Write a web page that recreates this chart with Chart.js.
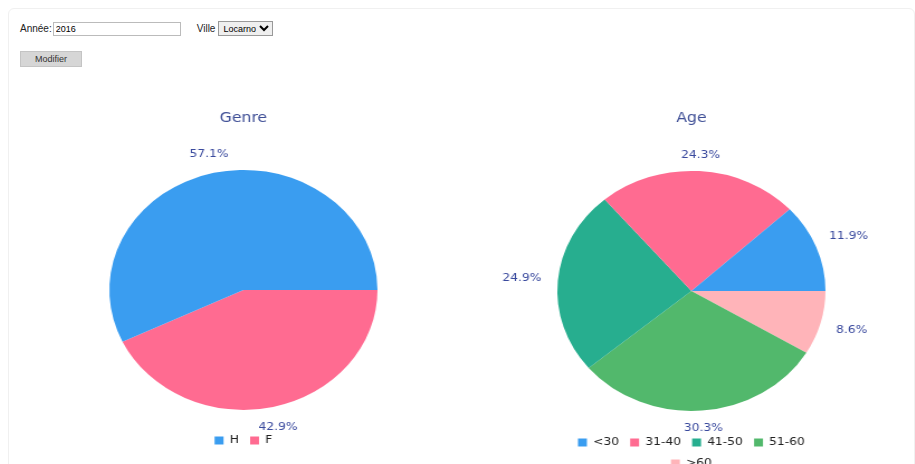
<!DOCTYPE html>
<html>
<head>
<meta charset="utf-8">
<script src="https://cdn.jsdelivr.net/npm/chart.js@4"></script>
<style>
    body { margin: 0; width: 915px; height: 464px; overflow: hidden; background: #fff; font-family: "Liberation Sans", Arial, sans-serif; font-size: 10px; color: #222; }
    .panel { position: absolute; left: 8px; top: 8px; width: 905px; height: 470px; border: 1px solid #f0f0f0; border-radius: 6px; }
    .form { position: absolute; left: 20px; top: 21px; }
    .form input { width: 122px; height: 12px; font-size: 9px; padding: 0 2px; border: 1px solid #bbb; margin: 0 0 0 1px; font-family: inherit; }
    .form select { height: 15px; font-size: 9px; border: 1px solid #999; margin-left: 3px; font-family: inherit; }
    .form .ville { margin-left: 16px; }
    .btn { position: absolute; left: 20px; top: 51px; width: 60px; height: 14px; background: #d6d6d6; border: 1px solid #c4c4c4; font-size: 9px; text-align: center; line-height: 14px; color: #333; }
    .chartbox { position: absolute; top: 100px; transform: scaleX(1.117); transform-origin: 0 0; }
</style>
</head>
<body>
<div class="panel"></div>
<div class="form">
    Année:<input type="text" value="2016"><span class="ville">Ville</span><select><option>Locarno</option></select>
</div>
<div class="btn">Modifier</div>
<div class="chartbox" style="left:20px"><canvas id="genre" width="400" height="356"></canvas></div>
<div class="chartbox" style="left:468px"><canvas id="age" width="400" height="379"></canvas></div>
<script>
const genreLabels = ['H', 'F'];
const genreValues = [57.1, 42.9];
const genreColors = ['#3a9df0', '#ff6b91'];

const ageLabels = ['<30', '31-40', '41-50', '51-60', '>60'];
const ageValues = [11.9, 24.3, 24.9, 30.3, 8.6];
const ageColors = ['#3a9df0', '#ff6b91', '#27ae8f', '#52b86c', '#ffb4b9'];

// percent labels outside each slice
const outLabels = {
    id: 'outLabels',
    afterDatasetsDraw(chart) {
        const ctx = chart.ctx;
        const data = chart.data.datasets[0].data;
        const total = data.reduce((a, b) => a + b, 0);
        ctx.save();
        ctx.font = '11px "DejaVu Sans", sans-serif';
        ctx.fillStyle = '#3a4a9e';
        ctx.textAlign = 'center';
        ctx.textBaseline = 'middle';
        chart.getDatasetMeta(0).data.forEach((arc, i) => {
            const { x, y, startAngle, endAngle, outerRadius } = arc.getProps(['x', 'y', 'startAngle', 'endAngle', 'outerRadius'], true);
            const mid = (startAngle + endAngle) / 2;
            const text = (data[i] / total * 100).toFixed(1) + '%';
            const half = ctx.measureText(text).width / 2;
            const r = outerRadius + 15 + half * Math.abs(Math.cos(mid)) + 1.5 * Math.max(0, Math.sin(mid));
            ctx.fillText(text, x + Math.cos(mid) * r, y + Math.sin(mid) * r);
        });
        ctx.restore();
    }
};

function renderPie(canvasId, title, labels, values, colors, sidePad) {
    // drawn anticlockwise from 3 o'clock in the original, so feed reversed and start at 90deg
    new Chart(document.getElementById(canvasId), {
        type: 'pie',
        data: {
            labels: [...labels].reverse(),
            datasets: [{
                data: [...values].reverse(),
                backgroundColor: [...colors].reverse(),
                borderWidth: 0,
                radius: 120
            }]
        },
        options: {
            responsive: false,
            animation: false,
            rotation: 90,
            layout: { padding: { left: sidePad, right: sidePad } },
            plugins: {
                title: {
                    display: true,
                    text: title,
                    color: '#3f4f96',
                    font: { size: 14, weight: 'normal', family: '"DejaVu Sans", sans-serif' },
                    padding: { top: 10, bottom: 28 }
                },
                legend: {
                    position: 'bottom',
                    reverse: true,
                    labels: {
                        boxWidth: 8,
                        boxHeight: 8,
                        padding: 10,
                        color: '#222',
                        font: { size: 11, family: '"DejaVu Sans", sans-serif' }
                    }
                },
                tooltip: { enabled: false }
            }
        },
        plugins: [outLabels]
    });
}

renderPie('genre', 'Genre', genreLabels, genreValues, genreColors, 0);
renderPie('age', 'Age', ageLabels, ageValues, ageColors, 85);
</script>
</body>
</html>
